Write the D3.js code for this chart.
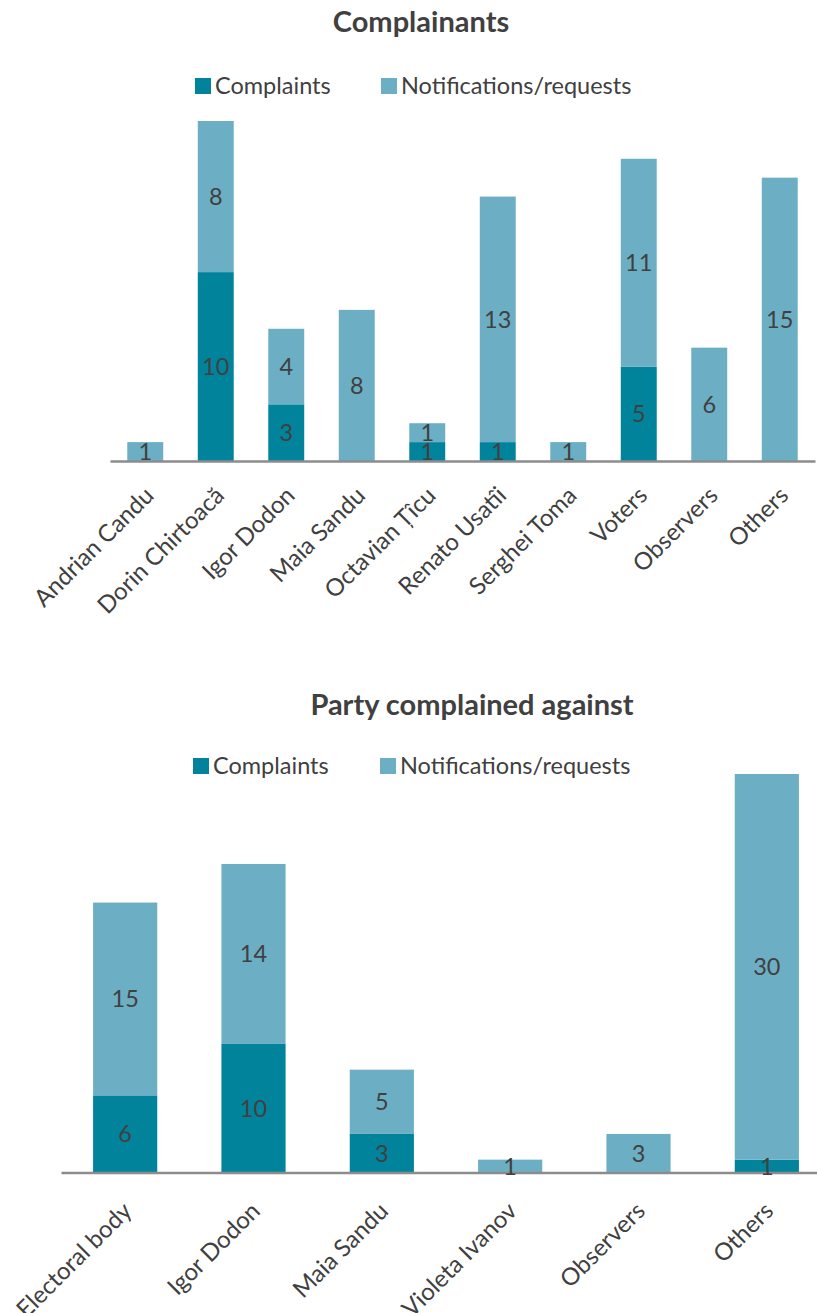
<!DOCTYPE html>
<html>
<head>
<meta charset="utf-8">
<script src="https://cdn.jsdelivr.net/npm/d3@7"></script>
<style>
  html, body { margin: 0; padding: 0; background: #ffffff; }
  svg { display: block; font-family: Lato, "Open Sans", sans-serif; }
</style>
</head>
<body>
<svg id="chart" width="817" height="1313"></svg>
<script>
// Complainants
const complainantCategories = ["Andrian Candu", "Dorin Chirtoacă", "Igor Dodon", "Maia Sandu", "Octavian Țîcu",
  "Renato Usatîi", "Serghei Toma", "Voters", "Observers", "Others"];
const complainantComplaints = [0, 10, 3, 0, 1, 1, 0, 5, 0, 0];
const complainantNotifications = [1, 8, 4, 8, 1, 13, 1, 11, 6, 15];

// Party complained against
const partyCategories = ["Electoral body", "Igor Dodon", "Maia Sandu", "Violeta Ivanov", "Observers", "Others"];
const partyComplaints = [6, 10, 3, 0, 0, 1];
const partyNotifications = [15, 14, 5, 1, 3, 30];

const seriesNames = ["Complaints", "Notifications/requests"];
const seriesColors = ["#02839c", "#6cafc4"];
const textColor = "#404040";
const axisColor = "#8c8c8c";

const svg = d3.select("#chart");

function drawChart(cfg) {
  const rows = cfg.categories.map((c, i) => ({
    category: c,
    "Complaints": cfg.complaints[i],
    "Notifications/requests": cfg.notifications[i]
  }));
  const stacked = d3.stack().keys(seriesNames)(rows);
  const maxTotal = d3.max(rows, r => r["Complaints"] + r["Notifications/requests"]);

  // each category gets an equal slot with the bar centred in it
  const x = d3.scaleBand().domain(cfg.categories).range(cfg.xRange)
    .paddingInner(cfg.barPadding).paddingOuter(cfg.barPadding / 2);
  const y = d3.scaleLinear().domain([0, maxTotal]).range([cfg.baseline, cfg.plotTop]);

  const g = svg.append("g");

  // title
  g.append("text")
    .attr("x", cfg.titleX).attr("y", cfg.titleY)
    .attr("text-anchor", "middle")
    .attr("font-size", 29).attr("font-weight", "bold")
    .attr("fill", textColor)
    .text(cfg.title);

  // legend
  const legend = g.append("g");
  seriesNames.forEach((name, i) => {
    const lx = cfg.legendX[i];
    legend.append("rect")
      .attr("x", lx).attr("y", cfg.legendY - 8)
      .attr("width", 16).attr("height", 16)
      .attr("fill", seriesColors[i]);
    legend.append("text")
      .attr("x", lx + 20).attr("y", cfg.legendY + 8)
      .attr("font-size", 23.5).attr("fill", textColor)
      .text(name);
  });

  // stacked bars
  const layers = g.append("g").selectAll("g")
    .data(stacked).join("g")
    .attr("fill", (d, i) => seriesColors[i]);
  layers.selectAll("rect")
    .data(d => d.filter(s => s[1] - s[0] > 0))
    .join("rect")
    .attr("x", d => x(d.data.category))
    .attr("width", x.bandwidth())
    .attr("y", d => y(d[1]))
    .attr("height", d => y(d[0]) - y(d[1]));

  // category axis
  const axis = g.append("g")
    .attr("transform", `translate(0,${cfg.baseline})`)
    .call(d3.axisBottom(x).tickSize(0).tickSizeOuter(0));
  axis.select(".domain").attr("stroke", axisColor).attr("stroke-width", 2.5);
  axis.selectAll(".tick text")
    .attr("x", 0).attr("y", 0).attr("dy", 0)
    .attr("text-anchor", "end")
    .attr("font-family", "Lato, 'Open Sans', sans-serif")
    .attr("font-size", 24)
    .attr("fill", textColor)
    .attr("transform", `translate(${cfg.labelDx},${cfg.labelDy}) rotate(-45)`);

  // value labels
  const labels = g.append("g");
  stacked.forEach(layer => {
    layer.forEach(s => {
      const v = s[1] - s[0];
      if (v <= 0) return;
      labels.append("text")
        .attr("x", x(s.data.category) + x.bandwidth() / 2)
        .attr("y", (y(s[0]) + y(s[1])) / 2)
        .attr("dy", "0.36em")
        .attr("text-anchor", "middle")
        .attr("font-size", 23.5)
        .attr("fill", textColor)
        .text(v);
    });
  });
}

drawChart({
  title: "Complainants",
  titleX: 421, titleY: 32,
  legendX: [195, 381], legendY: 86,
  categories: complainantCategories,
  complaints: complainantComplaints,
  notifications: complainantNotifications,
  xRange: [110, 815], barPadding: 0.49,
  baseline: 461, plotTop: 121,
  labelDx: 10, labelDy: 36
});

drawChart({
  title: "Party complained against",
  titleX: 472, titleY: 715,
  legendX: [193, 380], legendY: 766,
  categories: partyCategories,
  complaints: partyComplaints,
  notifications: partyNotifications,
  xRange: [61, 831], barPadding: 0.5,
  baseline: 1172.5, plotTop: 774,
  labelDx: 8, labelDy: 40
});
</script>
</body>
</html>
